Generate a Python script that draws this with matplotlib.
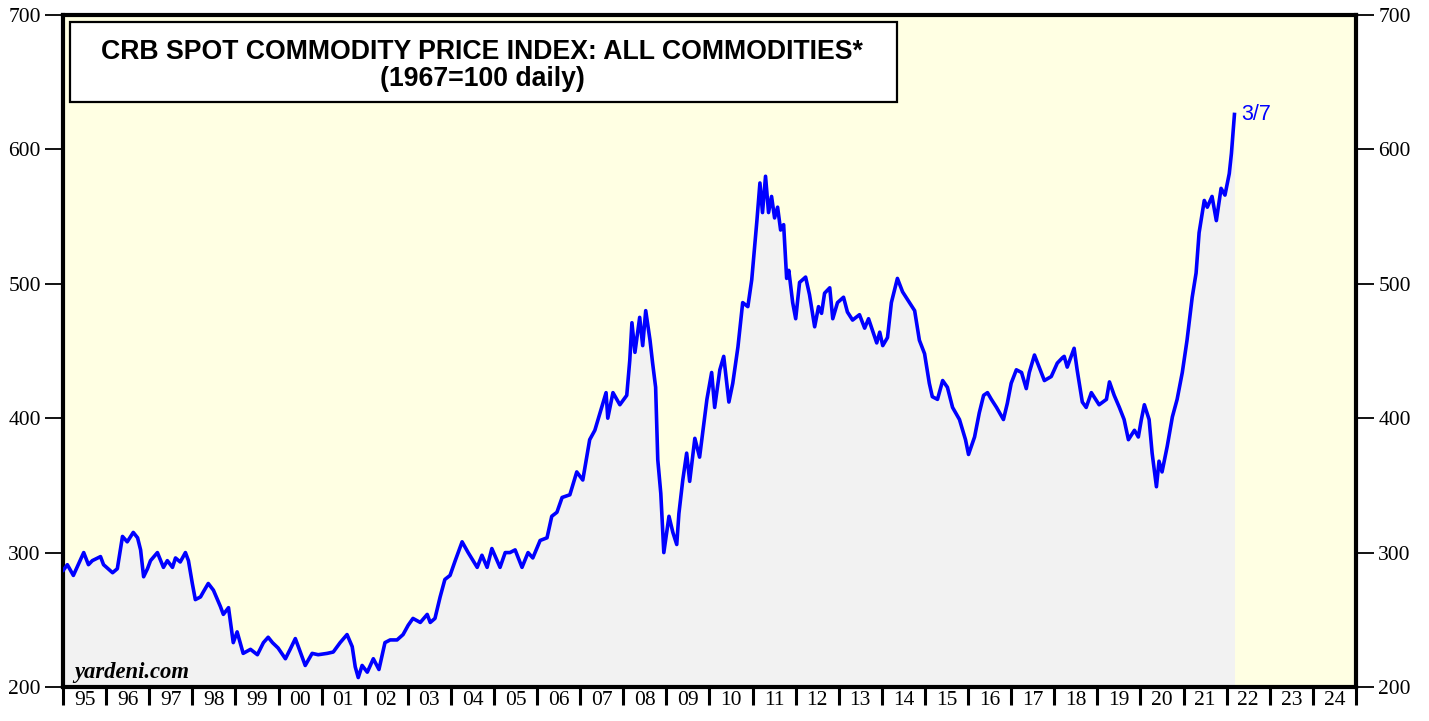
import matplotlib.pyplot as plt
from matplotlib.patches import Rectangle

# CRB spot index (decimal year, index value)
years = [
    1995.01, 1995.10, 1995.24, 1995.48, 1995.59, 1995.68, 1995.87, 1995.94,
    1996.15, 1996.26, 1996.38, 1996.49, 1996.63, 1996.73, 1996.80, 1996.87, 1996.96,
    1997.03, 1997.19, 1997.33, 1997.42, 1997.54, 1997.61, 1997.72, 1997.84, 1997.91,
    1998.00, 1998.07, 1998.19, 1998.26, 1998.37, 1998.49, 1998.65, 1998.72, 1998.84, 1998.95,
    1999.04, 1999.18, 1999.35, 1999.51, 1999.65, 1999.76, 1999.86, 1999.99,
    2000.16, 2000.27, 2000.39, 2000.46, 2000.62, 2000.78, 2000.92,
    2001.13, 2001.27, 2001.43, 2001.59, 2001.71, 2001.78, 2001.85, 2001.94,
    2002.06, 2002.20, 2002.33, 2002.47, 2002.59, 2002.75, 2002.89,
    2003.01, 2003.12, 2003.29, 2003.45, 2003.52, 2003.63, 2003.75, 2003.86, 2003.98,
    2004.10, 2004.26, 2004.40, 2004.61, 2004.72, 2004.84, 2004.95,
    2005.14, 2005.26, 2005.37, 2005.49, 2005.65, 2005.79, 2005.90,
    2006.07, 2006.23, 2006.34, 2006.46, 2006.58, 2006.76, 2006.92,
    2007.06, 2007.22, 2007.34, 2007.46, 2007.60, 2007.64, 2007.76, 2007.92,
    2008.08, 2008.15, 2008.20, 2008.27, 2008.38, 2008.45, 2008.52, 2008.62, 2008.68,
    2008.75, 2008.80, 2008.87, 2008.94,
    2009.06, 2009.15, 2009.24, 2009.29, 2009.38, 2009.47, 2009.54, 2009.66, 2009.77, 2009.94,
    2010.05, 2010.12, 2010.24, 2010.33, 2010.45, 2010.54, 2010.66, 2010.77, 2010.89, 2010.98,
    2011.10, 2011.17, 2011.23, 2011.30, 2011.37, 2011.44, 2011.51, 2011.58, 2011.65,
    2011.72, 2011.79, 2011.84, 2011.93,
    2012.00, 2012.09, 2012.23, 2012.32, 2012.44, 2012.53, 2012.60, 2012.67, 2012.79,
    2012.86, 2012.97,
    2013.11, 2013.20, 2013.32, 2013.48, 2013.60, 2013.69, 2013.88, 2013.95,
    2014.02, 2014.13, 2014.22, 2014.36, 2014.48, 2014.64, 2014.76, 2014.87, 2014.99,
    2015.10, 2015.17, 2015.29, 2015.41, 2015.52, 2015.64, 2015.80, 2015.94,
    2016.01, 2016.15, 2016.26, 2016.36, 2016.45, 2016.54, 2016.66, 2016.82, 2016.91,
    2017.00, 2017.12, 2017.24, 2017.35, 2017.42, 2017.54, 2017.65, 2017.77, 2017.93,
    2018.07, 2018.19, 2018.23, 2018.30, 2018.46, 2018.53, 2018.65, 2018.74, 2018.86,
    2019.04, 2019.21, 2019.28, 2019.39, 2019.51, 2019.62, 2019.72, 2019.86, 2019.95,
    2020.02, 2020.09, 2020.20, 2020.27, 2020.37, 2020.43, 2020.50, 2020.62, 2020.74,
    2020.85, 2020.97,
    2021.08, 2021.20, 2021.29, 2021.36, 2021.48, 2021.55, 2021.66, 2021.76, 2021.87,
    2021.96, 2022.06, 2022.11, 2022.18,
]
values = [
    287, 291, 283, 300, 291, 294, 297, 291,
    285, 288, 312, 308, 315, 311, 302, 282, 288,
    294, 300, 289, 294, 289, 296, 293, 300, 294,
    277, 265, 267, 271, 277, 272, 260, 254, 259, 233,
    241, 225, 228, 224, 233, 237, 233, 229,
    221, 228, 236, 230, 216, 225, 224,
    225, 226, 233, 239, 230, 215, 207, 216,
    211, 221, 213, 233, 235, 235, 239,
    246, 251, 248, 254, 248, 251, 267, 280, 283,
    294, 308, 300, 289, 298, 289, 303,
    289, 300, 300, 302, 289, 300, 296,
    309, 311, 327, 330, 341, 343, 360,
    354, 384, 391, 404, 419, 400, 419, 410,
    417, 443, 471, 449, 475, 454, 480, 458, 441,
    423, 369, 344, 300,
    327, 315, 306, 329, 354, 374, 353, 385, 371, 414,
    434, 408, 436, 446, 412, 426, 453, 486, 483, 503,
    547, 575, 553, 580, 553, 565, 549, 557, 540,
    544, 504, 510, 486,
    474, 501, 505, 492, 468, 483, 478, 493, 497,
    474, 486,
    490, 479, 473, 477, 467, 474, 456, 464,
    454, 460, 486, 504, 494, 486, 480, 458, 448,
    426, 416, 414, 428, 423, 408, 399, 384,
    373, 386, 404, 417, 419, 414, 408, 399, 411,
    426, 436, 434, 422, 434, 447, 438, 428, 431,
    441, 445, 446, 438, 452, 436, 412, 408, 419,
    410, 414, 427, 417, 408, 399, 384, 391, 386,
    399, 410, 399, 374, 349, 368, 360, 379, 401,
    414, 434,
    458, 490, 508, 538, 562, 557, 565, 547, 571,
    566, 582, 597, 626,
]

year_labels = ["95", "96", "97", "98", "99", "00", "01", "02", "03", "04",
               "05", "06", "07", "08", "09", "10", "11", "12", "13", "14",
               "15", "16", "17", "18", "19", "20", "21", "22", "23", "24"]
first_year = 1995
yticks = [200, 300, 400, 500, 600, 700]

fig = plt.figure(figsize=(14.29, 7.21), dpi=100)
ax = fig.add_axes([0.0441, 0.0472, 0.9048, 0.932])
ax.set_facecolor("#FFFFE3")

ax.fill_between(years, values, 200, color="#F2F2F2", lw=0, zorder=1)
ax.plot(years, values, color="#0000FF", lw=2.6, zorder=3, solid_joinstyle="round")

ax.set_xlim(first_year, first_year + len(year_labels))
ax.set_ylim(200, 700)

serif = "Liberation Serif"
ax.set_xticks([first_year + i for i in range(len(year_labels) + 1)])
ax.set_xticklabels([])
ax.set_xticks([first_year + i + 0.5 for i in range(len(year_labels))], minor=True)
ax.set_xticklabels(year_labels, minor=True, fontfamily=serif, fontsize=15.5)
ax.tick_params(axis="x", which="major", length=13, width=2.2, direction="out")
ax.tick_params(axis="x", which="minor", length=0, pad=3)

ax.set_yticks(yticks)
ax.set_yticklabels([str(t) for t in yticks], fontfamily=serif, fontsize=15.5)
ax.tick_params(axis="y", which="major", length=13, width=1.3, direction="out",
               left=True, right=True, labelleft=True, labelright=True, pad=3)

for side in ["left", "right", "top", "bottom"]:
    ax.spines[side].set_linewidth(3)
    ax.spines[side].set_color("black")

# title box
ax.add_patch(Rectangle((0.0054, 0.8705), 0.6396, 0.1191, transform=ax.transAxes,
                       facecolor="white", edgecolor="black", lw=1.6, zorder=5))
ax.text(0.324, 0.9455, "CRB SPOT COMMODITY PRICE INDEX: ALL COMMODITIES*",
        transform=ax.transAxes, ha="center", va="center", fontsize=19.2,
        fontweight="bold", fontfamily="Liberation Sans", zorder=6)
ax.text(0.324, 0.9045, "(1967=100 daily)", transform=ax.transAxes, ha="center",
        va="center", fontsize=19.2, fontweight="bold", fontfamily="Liberation Sans",
        zorder=6)

ax.annotate("3/7", xy=(years[-1], values[-1]), xytext=(5, 0), textcoords="offset points",
            ha="left", va="center", color="#0000FF", fontsize=15.5,
            fontfamily="Liberation Sans")

ax.text(0.009, 0.006, "yardeni.com", transform=ax.transAxes, ha="left", va="bottom",
        fontsize=16.3, fontweight="bold", fontstyle="italic", fontfamily=serif, zorder=6)

fig.savefig("out.png", dpi=100)
